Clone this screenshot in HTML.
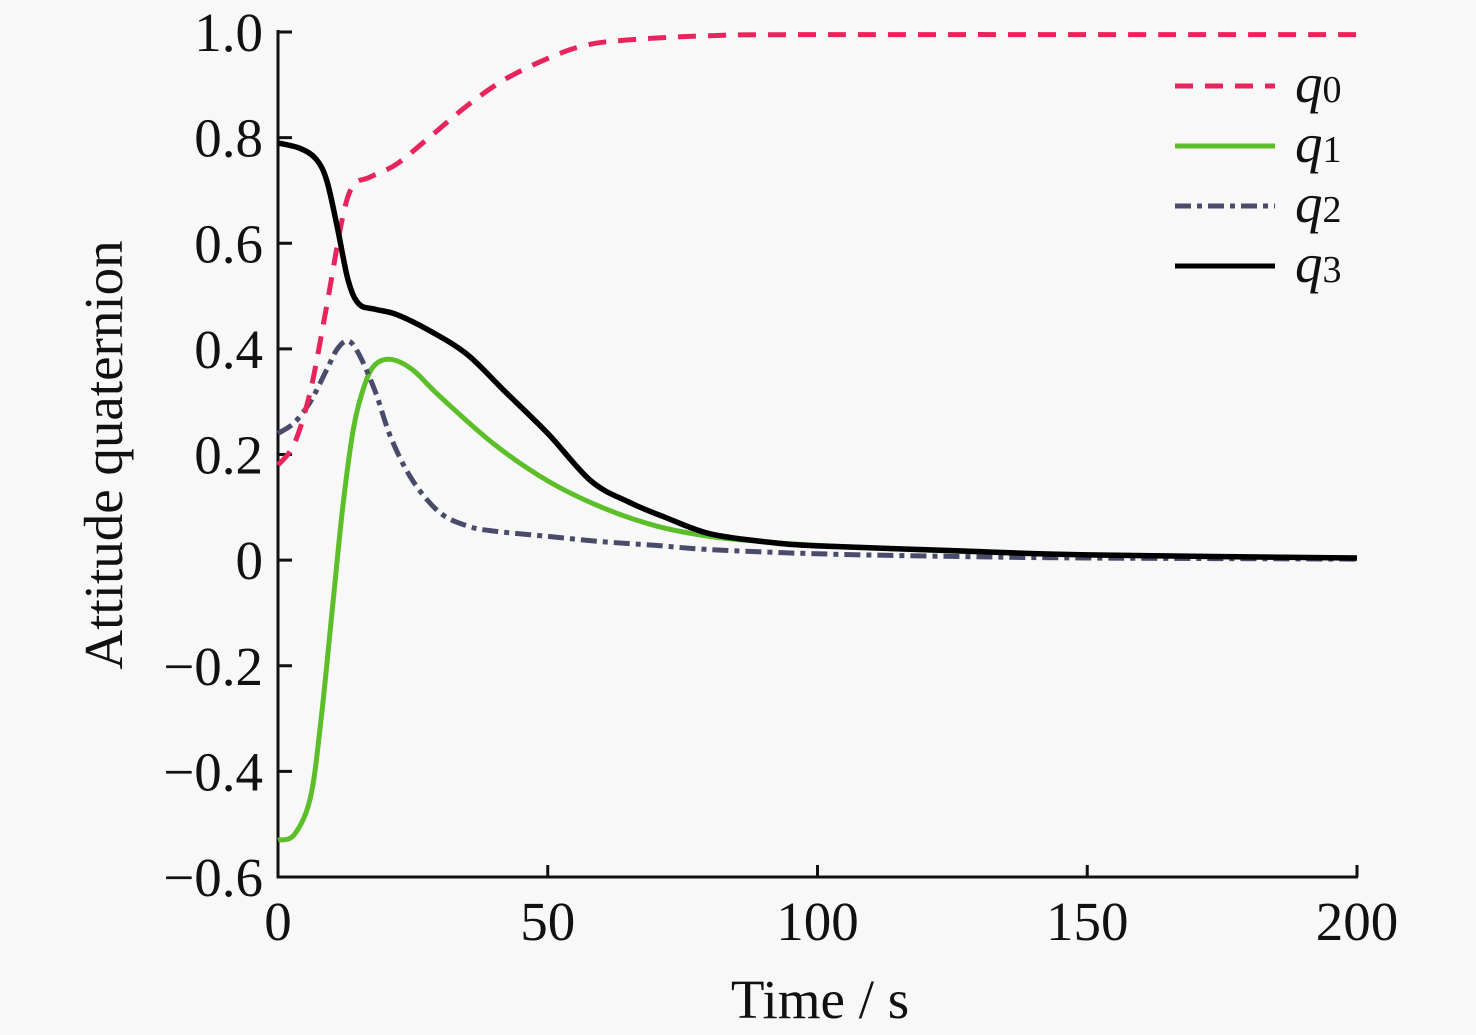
<!DOCTYPE html>
<html><head><meta charset="utf-8"><style>
html,body{margin:0;padding:0;background:#f8f8f8;}
svg{display:block;font-family:"Liberation Serif",serif;}
</style></head><body>
<svg id="chart" width="1476" height="1035" viewBox="0 0 1476 1035">
<rect width="1476" height="1035" fill="#f8f8f8"/>
<g id="axes"></g>
<g id="series"></g>
<g id="legend"></g>
<text x="820" y="1018" font-size="55" text-anchor="middle" fill="#111">Time / s</text>
<text transform="translate(122,455) rotate(-90)" font-size="55" text-anchor="middle" fill="#111">Attitude quaternion</text>
</svg>
<script>
const xTicks = [0, 50, 100, 150, 200];
const yTicks = [-0.6, -0.4, -0.2, 0, 0.2, 0.4, 0.6, 0.8, 1.0];
const yTickLabels = ["\u22120.6", "\u22120.4", "\u22120.2", "0", "0.2", "0.4", "0.6", "0.8", "1.0"];
const q0T = [0, 3, 6, 9, 12, 14, 17, 22, 28, 35, 42, 50, 57, 65, 80, 100, 200];
const q0V = [0.18, 0.22, 0.32, 0.48, 0.65, 0.71, 0.725, 0.75, 0.8, 0.86, 0.91, 0.95, 0.975, 0.985, 0.993, 0.995, 0.995];
const q1T = [0, 3, 6, 8, 10, 12, 14, 16, 18, 21, 25, 30, 40, 50, 60, 70, 80, 90, 100, 125, 150, 200];
const q1V = [-0.53, -0.52, -0.45, -0.3, -0.1, 0.1, 0.25, 0.33, 0.37, 0.38, 0.36, 0.31, 0.22, 0.15, 0.1, 0.065, 0.045, 0.035, 0.028, 0.017, 0.01, 0.004];
const q2T = [0, 3, 6, 9, 11, 13, 15, 18, 21, 25, 30, 35, 40, 50, 60, 70, 80, 100, 125, 150, 200];
const q2V = [0.24, 0.26, 0.3, 0.36, 0.4, 0.415, 0.39, 0.32, 0.23, 0.15, 0.09, 0.065, 0.055, 0.045, 0.035, 0.028, 0.02, 0.012, 0.007, 0.004, 0.002];
const q3T = [0, 4, 7, 9, 11, 13, 15, 18, 22, 28, 35, 42, 50, 58, 65, 72, 80, 90, 100, 125, 150, 200];
const q3V = [0.79, 0.78, 0.76, 0.72, 0.63, 0.53, 0.485, 0.475, 0.465, 0.435, 0.39, 0.32, 0.24, 0.15, 0.11, 0.08, 0.05, 0.035, 0.027, 0.018, 0.01, 0.004];

const X0 = 278, X1 = 1357, Y0 = 877, Y1 = 32;
const xs = t => X0 + (t - 0) / 200 * (X1 - X0);
const ys = v => Y0 - (v + 0.6) / 1.6 * (Y0 - Y1);
const NS = "http://www.w3.org/2000/svg";
function mk(tag, parent) { const e = document.createElementNS(NS, tag); parent.appendChild(e); return e; }

const axes = document.getElementById('axes');
let l = mk('line', axes);
l.setAttribute('x1', X0); l.setAttribute('x2', X0); l.setAttribute('y1', Y1 - 2); l.setAttribute('y2', Y0 + 1);
l.setAttribute('stroke', '#111'); l.setAttribute('stroke-width', '3');


l = mk('line', axes);
l.setAttribute('x1', X0 - 1); l.setAttribute('x2', X1 + 1); l.setAttribute('y1', Y0); l.setAttribute('y2', Y0);
l.setAttribute('stroke', '#111'); l.setAttribute('stroke-width', '3');


xTicks.forEach(t => {
  const tk = mk('line', axes);
  tk.setAttribute('x1', xs(t)); tk.setAttribute('x2', xs(t)); tk.setAttribute('y1', Y0); tk.setAttribute('y2', Y0 - 12);
  tk.setAttribute('stroke', '#111'); tk.setAttribute('stroke-width', '3');
  
  
  const tx = mk('text', axes);
  tx.setAttribute('x', xs(t)); tx.setAttribute('y', 940); tx.setAttribute('font-size', '55');
  tx.setAttribute('text-anchor', 'middle'); tx.setAttribute('fill', '#111');
  tx.textContent = String(t);
  
  
});
yTicks.forEach((v, i) => {
  const tk = mk('line', axes);
  tk.setAttribute('x1', X0); tk.setAttribute('x2', X0 + 14); tk.setAttribute('y1', ys(v)); tk.setAttribute('y2', ys(v));
  tk.setAttribute('stroke', '#111'); tk.setAttribute('stroke-width', '3');
  
  
  const tx = mk('text', axes);
  tx.setAttribute('x', 263); tx.setAttribute('y', ys(v) + 19); tx.setAttribute('font-size', '55');
  tx.setAttribute('text-anchor', 'end'); tx.setAttribute('fill', '#111');
  tx.textContent = yTickLabels[i];
  
  
});

function smoothPath(T, V) {
  const p = T.map((t, i) => [xs(t), ys(V[i])]);
  let d = 'M' + p[0][0] + ',' + p[0][1];
  for (let i = 0; i < p.length - 1; i++) {
    const a = p[Math.max(0, i - 1)], b = p[i], c = p[i + 1], e = p[Math.min(p.length - 1, i + 2)];
    const c1 = [b[0] + (c[0] - a[0]) / 6, b[1] + (c[1] - a[1]) / 6];
    const c2 = [c[0] - (e[0] - b[0]) / 6, c[1] - (e[1] - b[1]) / 6];
    d += ' C' + c1[0] + ',' + c1[1] + ' ' + c2[0] + ',' + c2[1] + ' ' + c[0] + ',' + c[1];
  }
  return d;
}
const ser = document.getElementById('series');
const styles = [
  {T: q1T, V: q1V, c: '#5cbf2a', w: 5, dash: '', n: 'q1-line'},
  {T: q2T, V: q2V, c: '#4a4a6a', w: 5, dash: '16 6 5 6', n: 'q2-line'},
  {T: q0T, V: q0V, c: '#e8245c', w: 5, dash: '18 12', n: 'q0-line'},
  {T: q3T, V: q3V, c: '#000', w: 5.5, dash: '', n: 'q3-line'}
];
styles.forEach(s => {
  const p = mk('path', ser);
  p.setAttribute('d', smoothPath(s.T, s.V));
  p.setAttribute('fill', 'none'); p.setAttribute('stroke', s.c); p.setAttribute('stroke-width', s.w);
  if (s.dash) p.setAttribute('stroke-dasharray', s.dash);
  
  
});

const leg = document.getElementById('legend');
const legItems = [
  {c: '#e8245c', dash: '18 12', sub: '0', n: 'legend-entry-q0'},
  {c: '#5cbf2a', dash: '', sub: '1', n: 'legend-entry-q1'},
  {c: '#4a4a6a', dash: '16 6 5 6', sub: '2', n: 'legend-entry-q2'},
  {c: '#000', dash: '', sub: '3', n: 'legend-entry-q3'}
];
legItems.forEach((it, i) => {
  const y = 86 + i * 60;
  const g = mk('g', leg);
  
  
  const ln = mk('line', g);
  ln.setAttribute('x1', 1175); ln.setAttribute('x2', 1275); ln.setAttribute('y1', y); ln.setAttribute('y2', y);
  ln.setAttribute('stroke', it.c); ln.setAttribute('stroke-width', '5');
  if (it.dash) ln.setAttribute('stroke-dasharray', it.dash);
  const tx = mk('text', g);
  tx.setAttribute('x', 1295); tx.setAttribute('y', y + 16); tx.setAttribute('font-size', '55'); tx.setAttribute('fill', '#111');
  const q = mk('tspan', tx); q.setAttribute('font-style', 'italic'); q.textContent = 'q';
  const s = mk('tspan', tx); s.setAttribute('font-size', '38'); s.textContent = it.sub;
});
</script>
</body></html>
